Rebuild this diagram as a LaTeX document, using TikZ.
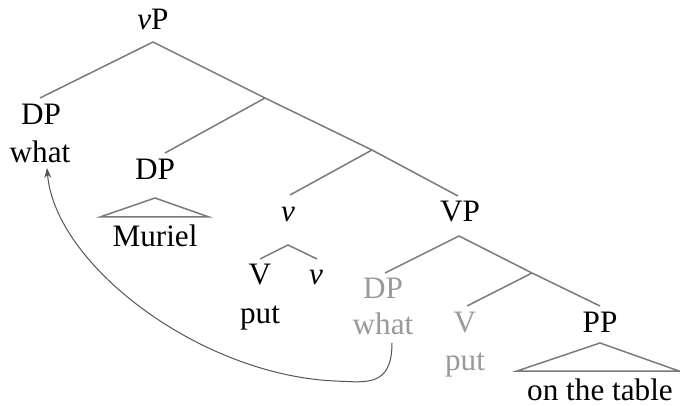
\documentclass[tikz,border=0pt]{standalone}
\usepackage{fontspec}
\setmainfont{Liberation Serif}
\usetikzlibrary{arrows.meta}
\definecolor{branch}{HTML}{7A7A7A}
\definecolor{trace}{HTML}{9A9A9A}
\definecolor{move}{HTML}{555555}
\tikzset{
  lbl/.style={anchor=base,inner sep=0pt,font=\fontsize{15.6}{18}\selectfont},
  ghost/.style={lbl,text=trace},
  branchline/.style={branch,line width=0.75pt},
}

\begin{document}
\begin{tikzpicture}[x=0.5pt,y=-0.5pt]
\useasboundingbox (0,0) rectangle (680,406);
% labels
\node[lbl] (vP) at (153,30) {\textit{v}P};
\node[lbl] (dpw) at (41,125) {DP};
\node[lbl] (what) at (40,163) {what};
\node[lbl] (dpm) at (155,180) {DP};
\node[lbl] (muriel) at (155,247) {Muriel};
\node[lbl] (vbar) at (288,222) {\textit{v}};
\node[lbl] (Vh) at (260,285) {V};
\node[lbl] (vh) at (316,285) {\textit{v}};
\node[lbl] (puth) at (260,323) {put};
\node[lbl] (VP) at (460,222) {VP};
\node[ghost] (dpg) at (383,299) {DP};
\node[ghost] (whatg) at (383,335) {what};
\node[ghost] (Vg) at (465,333) {V};
\node[ghost] (putg) at (465,370) {put};
\node[lbl] (PP) at (600,333) {PP};
\node[lbl] (table) at (600,400) {on the table};
% branch points
\coordinate (vPtop) at (153,42);
\coordinate (dpwtop) at (40,98);
\coordinate (b1) at (265,98);
\coordinate (dpmtop) at (165,153);
\coordinate (b2) at (372,150);
\coordinate (vbartop) at (290,195);
\coordinate (VPtop) at (458,196);
\coordinate (vbarbot) at (288,245);
\coordinate (Vhtop) at (260,259);
\coordinate (vhtop) at (317,259);
\coordinate (VPbot) at (459,236);
\coordinate (dpgtop) at (385,273);
\coordinate (b3) at (532,273);
\coordinate (Vgtop) at (467,306);
\coordinate (PPtop) at (600,306);
\coordinate (murtri) at (155,198);
\coordinate (pptri) at (600,343);
% tree
\draw[branchline] (dpwtop) -- (vPtop) -- (b1) -- (b2) -- (VPtop);
\draw[branchline] (b1) -- (dpmtop);
\draw[branchline] (b2) -- (vbartop);
\draw[branchline] (Vhtop) -- (vbarbot) -- (vhtop);
\draw[branchline] (dpgtop) -- (VPbot) -- (b3) -- (PPtop);
\draw[branchline] (b3) -- (Vgtop);
\draw[branchline] (murtri) -- ++(-55,19) -- ++(109,0) -- cycle;
\draw[branchline] (pptri) -- ++(-83,28) -- ++(162,0) -- cycle;
% movement
\coordinate (src) at (392,343);
\coordinate (dst) at (47,168);
\draw[move,line width=0.5pt,-{Stealth[length=5pt,width=3.5pt]}]
  (src) .. controls (392,388) and (365,382) .. (335,381)
  .. controls (200,375) and (55,265) .. (dst);
\end{tikzpicture}
\end{document}
